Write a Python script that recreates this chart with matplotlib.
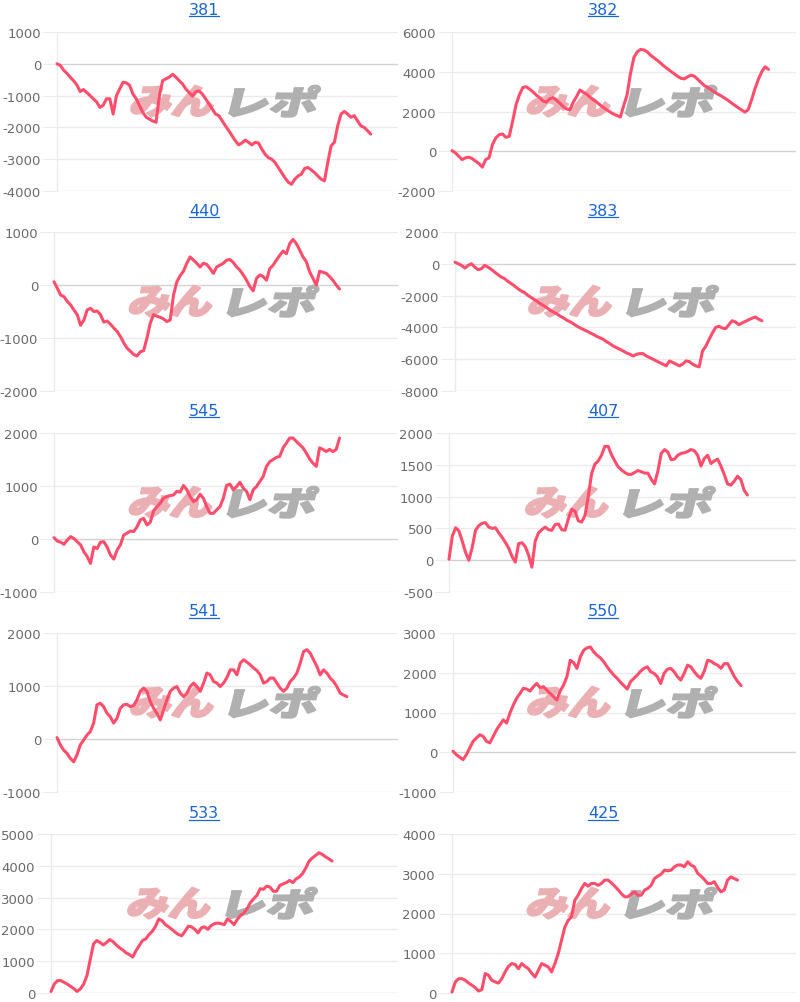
import matplotlib

matplotlib.use("Agg")
import matplotlib.pyplot as plt
import numpy as np
from matplotlib.font_manager import FontProperties
from matplotlib.lines import Line2D
from matplotlib.patches import PathPatch
from matplotlib.textpath import TextPath
from matplotlib.transforms import Affine2D, ScaledTranslation

# panel titles, left-to-right, top-to-bottom
TITLES = ["381", "382", "440", "383", "545", "407", "541", "550", "533", "425"]

S381 = [0, -50, -200, -300, -420, -530, -660, -870, -810, -900, -1000, -1100, -1200, -1370,
        -1300, -1100, -1100, -1580, -1000, -790, -580, -600, -680, -950, -1100, -1320, -1530,
        -1680, -1740, -1800, -1840, -1000, -530, -470, -420, -330, -420, -530, -630, -790,
        -900, -1020, -880, -850, -950, -1100, -1260, -1420, -1580, -1630, -1790, -1950, -2100,
        -2260, -2420, -2550, -2490, -2400, -2470, -2550, -2470, -2490, -2680, -2840, -2950,
        -3000, -3100, -3260, -3420, -3580, -3720, -3790, -3630, -3530, -3470, -3290, -3260,
        -3340, -3420, -3530, -3630, -3680, -3100, -2580, -2470, -1950, -1580, -1500, -1580,
        -1680, -1630, -1790, -1950, -2000, -2100, -2210]
S382 = [30, -80, -250, -420, -330, -300, -370, -500, -620, -800, -420, -330, 330, 670, 830, 870,
        700, 750, 1500, 2330, 2830, 3200, 3250, 3130, 3000, 2830, 2700, 2530, 2470, 2630, 2700,
        2580, 2420, 2250, 2130, 2080, 2470, 2750, 3080, 2970, 2870, 2720, 2580, 2470, 2330,
        2200, 2080, 1970, 1870, 1800, 1720, 2300, 2830, 3900, 4700, 5000, 5120, 5100, 5000,
        4830, 4700, 4570, 4430, 4280, 4150, 4020, 3900, 3770, 3670, 3640, 3750, 3830, 3770,
        3620, 3450, 3300, 3200, 3100, 2970, 2870, 2780, 2670, 2560, 2430, 2310, 2190, 2080,
        1970, 2100, 2600, 3150, 3620, 4000, 4250, 4120]
S440 = [60, -60, -190, -220, -310, -375, -470, -560, -760, -660, -470, -440, -500, -490, -560,
        -700, -680, -740, -810, -875, -970, -1090, -1190, -1250, -1310, -1340, -1260, -1240,
        -1000, -720, -560, -590, -610, -640, -690, -660, -190, 60, 175, 260, 410, 530, 470,
        410, 340, 410, 390, 310, 220, 340, 375, 410, 470, 480, 425, 340, 280, 190, 90, -30,
        -110, 125, 190, 160, 90, 310, 375, 470, 560, 640, 590, 780, 860, 780, 660, 530, 440,
        250, 125, 0, 260, 240, 220, 160, 90, 0, -75]
S383 = [100, 0, -100, -270, -100, 0, -210, -370, -310, -100, -210, -350, -520, -680, -830,
        -930, -1100, -1240, -1390, -1550, -1700, -1800, -1970, -2110, -2240, -2380, -2530,
        -2650, -2790, -2940, -3060, -3170, -3310, -3420, -3560, -3660, -3790, -3930, -4040,
        -4140, -4240, -4350, -4450, -4570, -4660, -4760, -4910, -5030, -5180, -5280, -5380,
        -5490, -5610, -5690, -5800, -5690, -5650, -5650, -5800, -5900, -6000, -6110, -6210,
        -6310, -6420, -6110, -6210, -6310, -6420, -6310, -6110, -6150, -6310, -6420, -6480,
        -5490, -5180, -4760, -4350, -4000, -3930, -4040, -4080, -3830, -3580, -3660, -3830,
        -3720, -3620, -3520, -3420, -3350, -3480, -3580]
S545 = [25, -40, -60, -100, -20, 45, 10, -50, -110, -240, -330, -460, -150, -180, -60, -50,
        -150, -300, -380, -210, -110, 75, 110, 150, 140, 230, 360, 390, 265, 315, 530, 610,
        675, 770, 800, 820, 830, 900, 885, 1010, 930, 800, 705, 740, 845, 770, 610, 485, 485,
        550, 610, 770, 1010, 1035, 930, 990, 1070, 960, 900, 740, 930, 990, 1085, 1180, 1370,
        1460, 1500, 1540, 1560, 1720, 1810, 1905, 1905, 1840, 1780, 1720, 1620, 1510, 1430,
        1370, 1720, 1690, 1650, 1690, 1650, 1690, 1905]
S407 = [15, 380, 510, 460, 300, 120, 0, 200, 470, 545, 580, 590, 520, 500, 510, 430, 360, 280,
        190, 60, -30, 260, 275, 215, 80, -110, 300, 430, 480, 520, 480, 470, 560, 570, 480,
        470, 650, 800, 770, 620, 600, 700, 1000, 1360, 1510, 1560, 1650, 1790, 1790, 1660,
        1560, 1470, 1420, 1380, 1350, 1350, 1380, 1410, 1390, 1370, 1370, 1270, 1200, 1400,
        1680, 1740, 1700, 1580, 1590, 1650, 1680, 1690, 1710, 1740, 1720, 1650, 1480, 1600,
        1650, 1520, 1560, 1590, 1480, 1350, 1200, 1180, 1240, 1320, 1270, 1100, 1025]
S541 = [25, -110, -210, -270, -365, -430, -300, -110, -20, 75, 140, 300, 645, 675, 610, 485,
        420, 300, 390, 580, 645, 655, 610, 630, 740, 900, 960, 900, 705, 580, 485, 360, 550,
        740, 900, 960, 990, 865, 800, 865, 990, 1055, 990, 900, 1055, 1245, 1210, 1085, 1055,
        990, 1055, 1160, 1305, 1305, 1210, 1430, 1495, 1450, 1400, 1340, 1290, 1210, 1055,
        1085, 1150, 1150, 1055, 960, 900, 960, 1085, 1150, 1245, 1430, 1650, 1685, 1620,
        1495, 1370, 1210, 1305, 1245, 1150, 1085, 990, 865, 830, 800]
S550 = [25, -60, -125, -185, -60, 110, 275, 360, 440, 400, 275, 235, 400, 565, 690, 815, 735,
        985, 1190, 1360, 1480, 1610, 1590, 1540, 1650, 1730, 1625, 1650, 1565, 1480, 1400,
        1315, 1540, 1690, 1900, 2315, 2255, 2110, 2400, 2565, 2625, 2650, 2525, 2440, 2375,
        2275, 2150, 2040, 1940, 1860, 1760, 1675, 1590, 1775, 1860, 1940, 2040, 2110, 2150,
        2025, 1985, 1900, 1730, 1985, 2090, 2110, 2025, 1900, 1815, 1985, 2190, 2150, 2025,
        1925, 1860, 2040, 2315, 2290, 2230, 2190, 2110, 2230, 2230, 2065, 1900, 1775, 1675]
S533 = [50, 280, 390, 390, 335, 280, 210, 135, 50, 130, 280, 545, 1050, 1540, 1650, 1590, 1510,
        1590, 1680, 1610, 1510, 1420, 1350, 1260, 1210, 1130, 1330, 1490, 1650, 1700, 1840,
        1940, 2100, 2330, 2270, 2150, 2080, 2000, 1910, 1840, 1800, 1940, 2100, 2080, 2000,
        1890, 2050, 2080, 2000, 2120, 2180, 2200, 2180, 2150, 2330, 2250, 2150, 2310, 2440,
        2520, 2650, 2840, 2960, 3070, 3280, 3260, 3360, 3330, 3200, 3200, 3380, 3430, 3470,
        3540, 3470, 3590, 3650, 3760, 3940, 4150, 4250, 4330, 4410, 4360, 4280, 4220, 4150]
S425 = [25, 280, 360, 360, 320, 250, 195, 135, 50, 85, 490, 445, 320, 280, 250, 360, 530, 670,
        740, 720, 610, 740, 670, 610, 500, 400, 570, 740, 700, 655, 530, 740, 990, 1330, 1660,
        1830, 1915, 2335, 2460, 2630, 2755, 2690, 2755, 2755, 2710, 2755, 2840, 2840, 2770,
        2690, 2600, 2500, 2420, 2420, 2490, 2545, 2460, 2460, 2590, 2630, 2710, 2880, 2940,
        2990, 3090, 3075, 3090, 3175, 3220, 3220, 3175, 3300, 3220, 3175, 3010, 2940, 2855,
        2755, 2755, 2800, 2655, 2545, 2590, 2840, 2920, 2880, 2840]

SERIES = [S381, S382, S440, S383, S545, S407, S541, S550, S533, S425]
Y_RANGES = [(-4000, 1000), (-2000, 6000), (-2000, 1000), (-8000, 2000), (-1000, 2000),
            (-500, 2000), (-1000, 2000), (-1000, 3000), (0, 5000), (0, 4000)]
Y_STEPS = [1000, 2000, 1000, 2000, 1000, 500, 1000, 1000, 1000, 1000]

# layout in pixels of the 800x1003 canvas
FIG_W, FIG_H = 800, 1003
AX_LEFT_PX = [57, 452, 54, 455, 54, 449, 57, 453, 51, 452]
AX_RIGHT_PX = (398, 796)
AX_TOP_PX = [33, 233, 434, 634, 835]
AX_H_PX = 159
TITLE_X_PX = (204, 603)
TITLE_Y_PX = [10.5, 211.5, 411.5, 612, 814]
DATA_SPAN = [0.92, 0.92, 0.83, 0.90, 0.83, 0.86, 0.85, 0.84, 0.81, 0.83]

LINE_COLOR = "#ff4d6b"
GRID_COLOR = "#ebebeb"
BASE_COLOR = "#d2d2d2"
TICK_TEXT = "#6a6a6a"
LINK_BLUE = "#1a66d2"
LOGO_PINK = "#ebb0b4"
LOGO_GRAY = "#b0b0b0"

LOGO_FONT = FontProperties(family=["Noto Sans CJK JP"], weight="heavy")


def _logo_part(axis, text, color, x_px, width_px, height_px, skew_deg=14):
    # text outline scaled to a pixel box, slanted, anchored at the axes' logo centre
    path = TextPath((0, 0), text, size=1, prop=LOGO_FONT)
    ext = path.get_extents()
    slant = np.tan(np.radians(skew_deg)) * height_px
    sx = (width_px - slant) / ext.width
    sy = height_px / ext.height
    local = (Affine2D()
             .translate(-ext.x0, -ext.y0)
             .scale(sx, sy)
             .skew_deg(skew_deg, 0)
             .translate(x_px, -height_px / 2))
    anchor = ScaledTranslation(0.49, 0.565, axis.transAxes)
    # same-colour outline fattens the strokes towards the heavy logo weight
    patch = PathPatch(path, facecolor=color, edgecolor=color, linewidth=1.5,
                      joinstyle="round", transform=local + anchor, zorder=2)
    axis.add_patch(patch)


def draw_logo(axis):
    _logo_part(axis, "みん", LOGO_PINK, -95, 89, 31)
    _logo_part(axis, "レポ", LOGO_GRAY, 4, 93, 31)


fig = plt.figure(figsize=(FIG_W / 100, FIG_H / 100), dpi=100)
renderer = fig.canvas.get_renderer()

for idx, (title, values) in enumerate(zip(TITLES, SERIES)):
    row, col = divmod(idx, 2)
    left = AX_LEFT_PX[idx]
    top = AX_TOP_PX[row]
    axis = fig.add_axes([left / FIG_W, 1 - (top + AX_H_PX) / FIG_H,
                         (AX_RIGHT_PX[col] - left) / FIG_W, AX_H_PX / FIG_H])
    axis.set_facecolor("white")

    lo, hi = Y_RANGES[idx]
    ticks = np.arange(lo, hi + 1, Y_STEPS[idx])
    axis.set_ylim(lo, hi)
    axis.set_yticks(ticks)
    axis.set_yticklabels([str(int(t)) for t in ticks])
    axis.set_xticks([])

    xs = np.arange(len(values))
    axis.set_xlim(0, (len(values) - 1) / DATA_SPAN[idx])

    for t in ticks:
        axis.axhline(t, color=BASE_COLOR if t == 0 else GRID_COLOR,
                     lw=1.0, zorder=0.5)

    for name, spine in axis.spines.items():
        spine.set_visible(name == "left")
    axis.spines["left"].set_color(GRID_COLOR)
    axis.spines["left"].set_linewidth(1.0)
    axis.spines["left"].set_zorder(0.6)

    axis.tick_params(axis="y", length=10, width=0.75, color=GRID_COLOR, pad=1.5,
                     labelsize=9.5, labelcolor=TICK_TEXT)

    draw_logo(axis)
    axis.plot(xs, values, color=LINE_COLOR, lw=2.2, solid_joinstyle="round",
              solid_capstyle="round", clip_on=False, zorder=3)

    # underlined link-style title above each panel
    tx = TITLE_X_PX[col] / FIG_W
    ty = 1 - TITLE_Y_PX[row] / FIG_H
    label = fig.text(tx, ty, title, ha="center", va="center", fontsize=11.5,
                     color=LINK_BLUE)
    bbox = label.get_window_extent(renderer=renderer)
    uy = (FIG_H - TITLE_Y_PX[row] - 6.8) / FIG_H
    fig.add_artist(Line2D([bbox.x0 / FIG_W, bbox.x1 / FIG_W], [uy, uy],
                          transform=fig.transFigure, color=LINK_BLUE, lw=0.9))

fig.savefig("out.png", dpi=100, facecolor="white")
